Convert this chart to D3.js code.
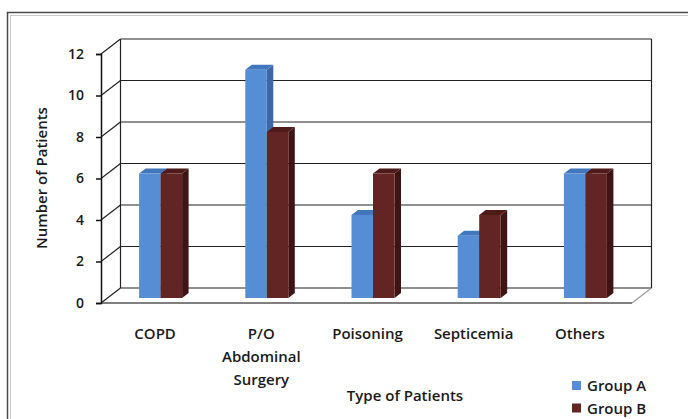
<!DOCTYPE html>
<html>
<head>
<meta charset="utf-8">
<script src="https://cdn.jsdelivr.net/npm/d3@7"></script>
<style>
  html, body { margin: 0; padding: 0; background: #fff; }
  svg { display: block; }
  text { font-family: "Open Sans", Lato, sans-serif; font-weight: 600; fill: #1a1a1a; }
</style>
</head>
<body>
<svg id="chart" width="688" height="419"></svg>
<script>
// Patients per type, two groups
const categories = ["COPD", "P/O Abdominal Surgery", "Poisoning", "Septicemia", "Others"];
const categoryLines = [["COPD"], ["P/O", "Abdominal", "Surgery"], ["Poisoning"], ["Septicemia"], ["Others"]];
const groups = ["Group A", "Group B"];
const groupA = [6, 11, 4, 3, 6];
const groupB = [6, 8, 6, 4, 6];
const yTicks = [0, 2, 4, 6, 8, 10, 12];

const palette = {
  "Group A": { front: "#558ed5", side: "#3d68a3", top: "#4277bd" },
  "Group B": { front: "#632523", side: "#3e1514", top: "#4f1b1a" }
};

const fontFamily = "'Open Sans', Lato, sans-serif";
const svg = d3.select("#chart");

// outer frame
svg.append("rect").attr("x", 7.5).attr("y", 12.5).attr("width", 700).attr("height", 420)
  .attr("fill", "none").attr("stroke", "#4a4a4a").attr("stroke-width", 1.5);
svg.append("rect").attr("x", 10.5).attr("y", 15.5).attr("width", 700).attr("height", 420)
  .attr("fill", "none").attr("stroke", "#c8c8c8").attr("stroke-width", 1);

// front plane geometry and depth of the 3D box
const x0 = 101, x1 = 632;
const depth = { dx: 19.5, dy: -15 };
const shift = t => [depth.dx * t, depth.dy * t];

const y = d3.scaleLinear().domain([0, 12]).range([303, 54]);
const x = d3.scaleBand().domain(categories).range([x0, x1]).paddingInner(0).paddingOuter(0);
const xg = d3.scaleBand().domain(groups).range([0, 43]).padding(0);
const barOffset = (x.bandwidth() - 43) / 2;

const g = svg.append("g");

// back wall gridlines
const [bx, by] = shift(1);
g.selectAll("line.grid").data(yTicks).join("line")
  .attr("x1", x0 + bx).attr("x2", x1 + bx)
  .attr("y1", d => y(d) + by).attr("y2", d => y(d) + by)
  .attr("stroke", "#222").attr("stroke-width", 1.2);
// side wall diagonals
g.selectAll("line.diag").data(yTicks).join("line")
  .attr("x1", x0).attr("x2", x0 + bx)
  .attr("y1", d => y(d)).attr("y2", d => y(d) + by)
  .attr("stroke", "#222").attr("stroke-width", 1.2);
// back wall edges
g.append("line").attr("x1", x0 + bx).attr("x2", x0 + bx)
  .attr("y1", y(0) + by).attr("y2", y(12) + by).attr("stroke", "#222").attr("stroke-width", 1.2);
g.append("line").attr("x1", x1 + bx).attr("x2", x1 + bx)
  .attr("y1", y(0) + by).attr("y2", y(12) + by).attr("stroke", "#222").attr("stroke-width", 1.2);

// floor front and right edges
g.append("line").attr("x1", x0).attr("x2", x1).attr("y1", y(0)).attr("y2", y(0))
  .attr("stroke", "#555").attr("stroke-width", 1.5);
g.append("line").attr("x1", x1).attr("x2", x1 + bx).attr("y1", y(0)).attr("y2", y(0) + by)
  .attr("stroke", "#999").attr("stroke-width", 1.2);

// y axis
const yAxis = d3.axisLeft(y).tickValues(yTicks).tickSize(5).tickPadding(12);
const ya = svg.append("g").attr("transform", `translate(${x0},0)`).call(yAxis);
ya.select(".domain").attr("stroke", "#111").attr("stroke-width", 1.5);
ya.selectAll(".tick line").attr("stroke", "#111").attr("stroke-width", 1.5);
ya.selectAll(".tick text").attr("font-size", 14).attr("font-family", fontFamily)
  .attr("font-weight", 600).attr("fill", "#1a1a1a");

// bars: front face at one third of the depth, back face at two thirds
const [fx, fy] = shift(1 / 3);
const [bdx, bdy] = [depth.dx / 3, depth.dy / 3];
const rows = [];
categories.forEach((c, i) => {
  rows.push({ c, grp: "Group A", v: groupA[i] });
  rows.push({ c, grp: "Group B", v: groupB[i] });
});

const bars = g.selectAll("g.bar").data(rows).join("g").attr("class", "bar");
bars.each(function (d) {
  const sel = d3.select(this);
  const left = x(d.c) + barOffset + xg(d.grp) + fx;
  const right = left + xg.bandwidth();
  const top = y(d.v) + fy;
  const bottom = y(0) + fy;
  const col = palette[d.grp];
  // side face
  sel.append("path")
    .attr("d", `M${right},${top}L${right + bdx},${top + bdy}L${right + bdx},${bottom + bdy}L${right},${bottom}Z`)
    .attr("fill", col.side);
  // top face
  sel.append("path")
    .attr("d", `M${left},${top}L${left + bdx},${top + bdy}L${right + bdx},${top + bdy}L${right},${top}Z`)
    .attr("fill", col.top);
  // front face
  sel.append("rect").attr("x", left).attr("y", top)
    .attr("width", xg.bandwidth()).attr("height", bottom - top).attr("fill", col.front);
});

// category labels
const cl = svg.append("g");
categories.forEach((c, i) => {
  const cx = x(c) + x.bandwidth() / 2 + 1;
  const t = cl.append("text").attr("x", cx).attr("y", 339)
    .attr("text-anchor", "middle").attr("font-size", 15);
  categoryLines[i].forEach((line, k) => {
    t.append("tspan").attr("x", cx).attr("dy", k === 0 ? 0 : 23).text(line);
  });
});

// axis titles
svg.append("text").attr("x", 405).attr("y", 401).attr("text-anchor", "middle")
  .attr("font-size", 15).text("Type of Patients");
svg.append("text").attr("transform", "translate(47,178) rotate(-90)").attr("text-anchor", "middle")
  .attr("font-size", 15).text("Number of Patients");

// legend
const lg = svg.append("g").attr("transform", "translate(572,381)");
groups.forEach((grp, i) => {
  const row = lg.append("g").attr("transform", `translate(0,${i * 22.5})`);
  row.append("rect").attr("width", 9).attr("height", 9).attr("fill", palette[grp].front);
  row.append("text").attr("x", 15).attr("y", 10).attr("font-size", 15).text(grp);
});
</script>
</body>
</html>
